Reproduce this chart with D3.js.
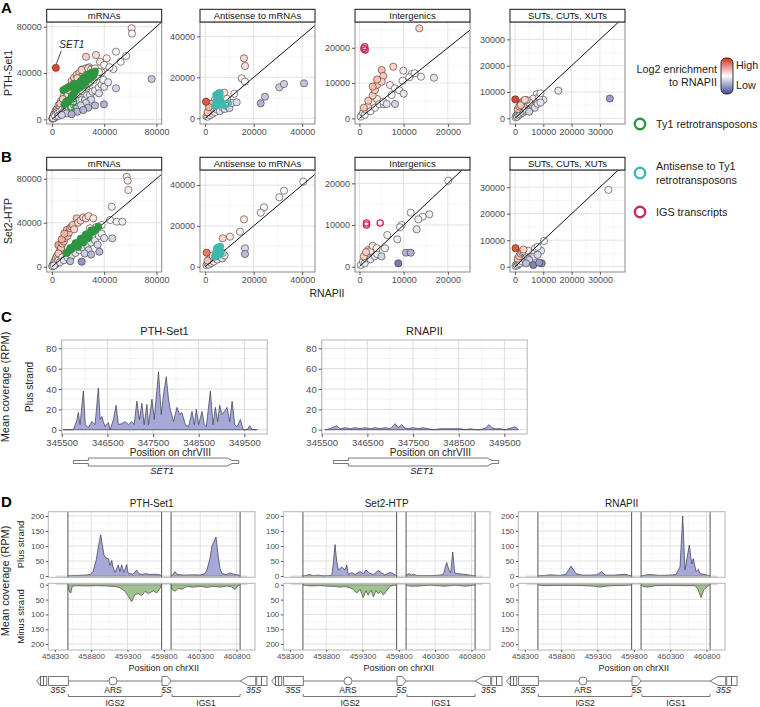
<!DOCTYPE html>
<html><head><meta charset="utf-8">
<script src="https://cdn.jsdelivr.net/npm/d3@7"></script>
<style>body{margin:0;background:#fff} svg{font-family:"Liberation Sans",Arial,Helvetica,sans-serif}</style>
</head><body><svg id="c" width="760" height="707"></svg>
<script>
// ================= DATA =================
const facetNames = ["mRNAs", "Antisense to mRNAs", "Intergenics", "SUTs, CUTs, XUTs"];
const rowNames = ["PTH-Set1", "Set2-HTP"];
const xLimits = [[-4000,84000],[-2150,45300],[-1000,25000],[-1770,38870]];
const yLimitsA = [[-4000,84000],[-2780,47000],[-1600,27300],[-2170,36600]];
const yLimitsB = [[-4800,87900],[-2600,47400],[-1270,23200],[-2000,36500]];
const majorTicks = [[0,40000,80000],[0,20000,40000],[0,10000,20000],[0,10000,20000,30000]];
const minorTicks = [[20000,60000],[10000,30000],[5000,15000,25000],[5000,15000,25000,35000]];

// row A: x = RNAPII, y = PTH-Set1
const mrnaA = [[300,600],[700,1800],[1200,2600],[1800,2200],[2200,4000],[2600,1900],[3300,5200],[3800,3200],[4300,7000],[4800,4500],[5300,8800],[5800,6000],[6300,4200],[6800,9800],[7300,7200],[7800,11500],[8300,6000],[9300,11000],[10200,8200],[11500,14000],
[500,800],[1000,1500],[1500,900],[2000,5000],[3000,7500],[4000,9000],[5000,12000],[6000,10500],[7000,16000],[8000,14000],[9000,20000],[10000,17500],[11000,24000],[12000,21000],[13000,28000],[14000,24500],[15000,33000],[16000,27000],[17000,36000],[18000,31000],[19000,38500],[20000,34000],[21000,40000],[22000,36500],[23000,43000],[24000,38000],[25000,41000],[26000,44000],[26100,54000],[28500,45000],[33700,55500],[22800,42600],[6500,13500],[8500,17500],[12500,25500],[3500,6000],[1500,3500],[16500,30500],[19500,35500],[27800,44000],
[1000,1200],[2500,2800],[4500,5000],[6000,6500],[8000,8500],[10000,10500],[12000,13000],[14000,15500],[17000,18000],[20000,21500],[23000,24500],[26000,28000],[29000,31500],[32000,34000],[35000,37000],[38000,40500],[36800,49700],[41900,52700],[47000,43400],[49000,58400],[52600,49700],[56700,54700],[61000,78600],[61300,74000],[30000,43000],[33000,44000],[40000,47000],[36000,41000],[44000,45000],[25000,30000],
[5000,3000],[7000,4500],[9000,6500],[11000,7000],[13000,9500],[15000,10000],[17000,12500],[19000,13000],[21000,16000],[23000,17000],[25300,16700],[27000,21000],[29100,21000],[31000,24000],[33000,25000],[35800,27700],[38000,30000],[39300,34000],[40000,28000],[43000,32000],[49000,26800],[36000,22500],[30000,17000],[26000,14000],[22000,12000],[18000,9000],
[76300,34800],[39800,13000],[27800,10100],[19400,6600],[11300,5200],[7500,3800],[33000,12000],[24000,8000],[15000,4500],
[3000,44500]];
const ty1A = [[8700,25300],[10500,26500],[12600,27700],[14500,28500],[16500,30000],[18500,30500],[20200,31100],[22000,33000],[23800,35500],[25500,36500],[27000,38300],[28500,39000],[30300,40400],[31500,40000],[33000,41300],[15100,19600],[16500,21500],[17700,23900],[19500,26000],[21500,27500],[24000,29500],[26000,32000],[28000,34500],[30000,36000],[32000,38000],[13500,17000],[11000,15500],[9500,13000]];
const ty1OpenA = [[14400,10400],[16500,15000]];
const antisenseA = [[500,1000],[1000,800],[1500,2500],[2000,1500],[2500,3500],[3000,2200],[3500,5000],[4000,3000],[5000,4200],[6000,3500],[7000,5500],[8000,4500],[9000,6000],[10000,5000],[11000,7500],[2000,4500],[3000,6500],[1000,3000],
[16000,29280],[16420,25520],[7880,12500],[4000,9000],[2500,7000],[1500,5500],
[15060,19520],[16420,17860],[12000,12000],[9000,9500],[6500,7000],
[12990,7810],[24670,10540],[30570,15130],[32510,16740],[40760,17080],[22890,7320],[330,8100]];
const asTy1A = [[4000,6000],[4500,8000],[5000,10000],[5500,12000],[5800,11000],[6200,9000],[6500,7500],[7000,6500],[5000,7000],[4500,11500],[6000,12400],[5200,9500]];
const asTy1OpenA = [[8860,6980],[9500,7500]];
const interA = [[300,500],[800,1500],[1200,1000],[1500,2500],[2000,3500],[2500,2000],[3000,4500],[3500,3000],[4000,5500],[4500,4000],[2000,5000],[3000,6500],[1000,3000],[3500,8000],[4000,9500],[5500,4000],
[13530,25500],[7660,14630],[5030,13700],[5400,12000],[5030,10380],[3000,9000],[4000,11000],
[9920,13500],[11810,12560],[11270,11630],[12500,12800],[9780,10670],[13920,11800],[6910,9450],[8040,8510],[7290,6620],[5400,4720],[9000,8000],
[16850,11520],[6160,4070],[10000,7000],[8040,4070]];
const igsA = [[1200,20300],[1300,19400],[1000,19800]];
const sutA = [[200,400],[500,1000],[800,600],[1000,1800],[1300,1200],[1500,2500],[1800,1500],[2000,3000],[2200,2000],[2500,3500],[2800,2200],[3000,4000],[3200,2800],[3500,4500],[3800,3000],[4000,3500],[4500,5000],[5000,4000],[5500,3500],[6000,5000],[6500,4500],[7000,4000],[1000,3500],[1500,4500],[2000,5500],[2500,6000],[3000,6500],
[15300,10500],[7660,9120],[10000,7000],[6460,7450],[8500,8000],[9000,9500],[5000,6000],
[4130,6950],[2000,5000],[3500,7000],[8000,5500],[9000,6000],[5000,2500],[33500,7500],[100,7200]];

// row B: x = RNAPII, y = Set2-HTP
const mrnaB = [[300,500],[700,1600],[1200,2400],[1800,1500],[2300,3600],[2800,2200],[3400,4800],[3900,3100],[4400,6200],[5200,4300],[5800,7600],[6400,5200],[7200,9400],[7800,6300],[8800,10200],[9600,7400],[10500,12500],[11200,9000],
[2000,5000],[3000,8000],[4000,10000],[4900,19700],[6000,14000],[7000,17000],[8000,21000],[9000,23000],[10000,26000],[11300,33400],[12000,28000],[13000,31000],[14000,35000],[15100,36400],[16000,38000],[17000,34000],[18960,44000],[20000,40000],[22000,42000],[24000,44900],[26000,44000],[28000,46000],[7500,25000],[9500,30000],[5000,12000],
[1000,1200],[3000,3300],[5000,5500],[8000,8500],[11000,11500],[14000,15000],[17000,18000],[20000,21500],[24000,26000],[27000,29000],[31660,44000],[38090,37910],[44440,42460],[45740,54540],[49560,40910],[53850,40910],[57200,81800],[58000,78200],[58500,69700],[34000,36000],[31000,33000],[29000,35000],
[6000,4000],[9000,6000],[12000,8500],[15000,10000],[18000,12500],[21000,15000],[24000,17000],[27000,19000],[30000,22000],[33000,24000],[35000,20000],[36000,28000],[38000,30000],[40000,26000],[28000,15000],[25000,12000],
[46200,25800],[36250,13650],[22800,4560],[14000,5000],[30000,11000],[500,600],[1500,1000]];
const ty1B = [[11300,12400],[13000,14500],[15000,16000],[17000,18500],[19000,20000],[21000,22500],[23000,24000],[25000,26500],[27000,28000],[29000,30000],[31000,31500],[33000,33500],[35500,36400],[14000,17000],[18000,21500],[22000,25500],[26000,29500],[30000,33000],[20000,18000],[24000,22000],[28000,26000]];
const antisenseB = [[500,800],[1000,1500],[1500,1000],[2000,2500],[2500,1800],[3000,3500],[3500,2500],[4000,4500],[5000,3500],[6000,5000],[7000,4000],[8000,5500],[2000,4000],[1000,3000],[3000,5500],
[40470,41670],[32510,37260],[30570,34020],[24260,29120],[22890,26470],[14350,17160],[7220,6800],[10230,14700],
[16000,23230],[7220,13920],[16420,9020],[16420,6220],[610,6860]];
const asTy1B = [[4000,5000],[4500,7000],[5000,8500],[5500,9500],[6000,8000],[6500,7000],[5200,6500],[4800,9000],[6200,9800],[5800,6000]];
const interB = [[300,400],[800,1200],[1200,800],[1500,2000],[2000,2800],[2500,1800],[3000,3500],[3500,2500],[1000,2500],[2000,4000],[4000,3000],[2500,3800],[1500,3500],[3000,5000],
[20090,20630],[11590,12960],[15800,12570],[14300,12000],[13300,11370],[9550,10000],[9170,9450],[12940,8970],[6300,7600],[8560,6570],[5780,4420],[3900,4420],
[10530,3360],[11590,3360],[5000,2500],[8790,820]];
const igsB = [[1600,10500],[1600,10000],[4700,10500]];
const sutB = [[200,300],[500,800],[800,500],[1000,1500],[1300,1000],[1500,2200],[1800,1300],[2000,2800],[2500,2000],[3000,3200],[3500,2500],[4000,4000],[4500,3000],[1000,3000],[1500,4000],[2000,5000],[2500,5500],[3000,5800],
[33000,29000],[10250,9700],[9190,6040],[7070,6950],[6000,5000],[8000,7500],[4700,6040],[3000,6500],
[6710,3780],[8000,4500],[5000,2500],[9430,1280],[6460,640],[3900,1300],[8500,1500],[200,7000]];

const legendItems = ["Ty1 retrotransposons", ["Antisense to Ty1","retrotransposons"], "IGS transcripts"];

// Panel C: coverage on chrVIII (RPM, plus strand)
const cTitles = ["PTH-Set1", "RNAPII"];
const cXLimits = [345500, 350000];
const cYLimits = [-4.2, 88.2];
const cXTicks = [345500, 346500, 347500, 348500, 349500];
const cXMinor = [346000, 347000, 348000, 349000];
const cYTicks = [0, 20, 40, 60, 80];
const cYMinor = [10, 30, 50, 70];
const set1Cov = [[345530,0],[345726,0],[345755,0],[345829,9],[345864,17],[345902,5],[345974,38],[346018,5],[346084,2],[346159,8],[346231,5],[346303,41],[346341,10],[346378,13],[346413,8],[346450,3],[346523,7],[346560,0],[346633,10],[346692,24],[346742,5],[346817,6],[346889,8],[346962,5],[347037,8],[347087,5],[347146,28],[347203,10],[347256,26],[347306,5],[347366,25],[347401,5],[347476,30],[347526,10],[347620,57],[347680,15],[347730,35],[347789,52],[347840,30],[347877,20],[347950,8],[348024,22],[348081,15],[348134,17],[348206,5],[348279,3],[348354,18],[348404,5],[348448,20],[348498,5],[348573,18],[348623,5],[348667,3],[348755,38],[348814,5],[348865,22],[348915,8],[348959,24],[349012,15],[349062,18],[349122,22],[349179,8],[349232,28],[349289,5],[349341,3],[349414,10],[349473,0],[349561,0],[349618,4],[349671,0],[349780,0]];
const rnapCov = [[345572,0],[345682,1],[345829,4],[345902,1],[346011,2],[346121,1],[346231,2],[346341,1],[346450,2],[346560,1],[346670,2],[346780,1],[346889,2],[346999,1],[347065,4],[347109,6],[347175,2],[347256,5],[347306,2],[347394,1],[347504,2],[347614,1],[347723,2],[347833,1],[347943,0],[348096,1],[348206,1],[348316,1],[348426,1],[348535,1],[348645,0],[348755,1],[348865,0],[348974,0],[349106,2],[349157,5],[349232,2],[349304,1],[349414,1],[349523,0],[349671,2],[349743,3],[349809,0]];
const set1Gene = {start:345755, cdsStart:346084, arrowStart:349122, cdsEnd:349232, end:349376, name:"SET1"};

// Panel D: rDNA locus on chrXII
const dTitles = ["PTH-Set1", "Set2-HTP", "RNAPII"];
const dXLimits = [458210, 461055];
const dPlusLimits = [-4.3, 214.3];
const dMinusLimits = [-5, 220];
const dXTicks = [458300, 458800, 459300, 459800, 460300, 460800];
const dXMinor = [458550, 459050, 459550, 460050, 460550];
const dYTicks = [0, 50, 100, 150, 200];
const dYMinor = [25, 75, 125, 175];
const dMasks = [[458210,458480],[459770,459900],[460850,461055]];
const dBaseline = [458326, 460941];
const pthPlus = [[458481,0],[458577,2],[458715,3],[458784,5],[458825,15],[458867,50],[458894,90],[458931,137],[458956,100],[458977,70],[459004,60],[459036,58],[459059,35],[459083,52],[459101,30],[459128,12],[459173,37],[459197,15],[459220,37],[459252,12],[459289,38],[459307,10],[459335,8],[459376,6],[459427,20],[459458,8],[459500,5],[459555,8],[459610,5],[459679,6],[459748,4],[459768,0],
 [459902,0],[459926,5],[459954,15],[459981,5],[460091,3],[460229,4],[460298,3],[460367,8],[460394,20],[460436,60],[460463,100],[460518,130],[460546,70],[460573,25],[460601,8],[460656,5],[460711,10],[460766,6],[460835,3],[460848,0]];
const pthMinus = [[458481,0],[458495,20],[458518,28],[458540,5],[458601,3],[458739,4],[458876,3],[459014,4],[459128,6],[459197,10],[459266,22],[459311,39],[459358,57],[459403,33],[459449,30],[459496,37],[459541,22],[459586,30],[459655,20],[459702,28],[459748,12],[459768,0],
 [459902,0],[459908,15],[459954,22],[459999,12],[460046,15],[460115,6],[460206,8],[460298,5],[460390,9],[460481,5],[460573,8],[460666,4],[460734,7],[460780,16],[460812,5],[460848,0]];
const set2Plus = [[458481,0],[458577,5],[458623,1],[458692,3],[458761,0],[458876,2],[458898,40],[458922,105],[458945,50],[458967,20],[459014,30],[459059,20],[459083,37],[459105,5],[459151,12],[459197,5],[459266,15],[459311,8],[459348,20],[459394,10],[459449,5],[459518,18],[459564,10],[459610,3],[459679,12],[459724,8],[459768,0],
 [459902,0],[459908,4],[459944,8],[459977,3],[459999,6],[460046,2],[460184,1],[460321,2],[460412,5],[460459,45],[460491,20],[460514,10],[460542,80],[460569,10],[460619,8],[460688,6],[460756,4],[460848,0]];
const set2Minus = [[458481,0],[458577,4],[458715,3],[458922,6],[458990,8],[459059,6],[459128,10],[459169,15],[459220,28],[459266,15],[459311,43],[459348,20],[459380,35],[459417,18],[459449,40],[459486,20],[459518,30],[459555,22],[459586,35],[459633,20],[459679,5],[459768,0],
 [459902,0],[459954,5],[460091,4],[460229,1],[460436,5],[460573,1],[460725,5],[460848,0]];
const rnapPlus = [[458481,0],[458577,2],[458646,4],[458784,2],[458867,6],[458935,33],[459004,8],[459087,3],[459197,3],[459293,4],[459358,15],[459403,3],[459541,3],[459679,6],[459768,0],
 [459902,0],[459954,3],[460023,5],[460160,2],[460298,3],[460381,5],[460436,30],[460473,200],[460504,20],[460564,103],[460597,40],[460619,58],[460656,15],[460688,22],[460711,8],[460780,5],[460848,0]];
const rnapMinus = [[458481,0],[458577,3],[458715,2],[458990,2],[459128,3],[459266,5],[459335,8],[459403,5],[459500,3],[459679,2],[459768,0],
 [459902,0],[459926,6],[459995,8],[460091,3],[460298,2],[460504,3],[460642,3],[460683,15],[460725,43],[460766,15],[460848,0]];
const rdna = {left35S:[458050,458485], ars:459100, fiveS:[459775,459900], right35S:[460850,461220], igs2:[458485,459775], igs1:[459913,460849]};

// ================= DRAWING =================
const svg = d3.select("#c");
const TXT = "#4d4d4d";
const enrich = d3.scaleLinear().domain([-4,0,4]).range(["#3b4a94","#ffffff","#d62f1c"]).interpolate(d3.interpolateLab).clamp(true);
const fillFor = d => enrich(Math.log2((d[1]+500)/(d[0]+500)));
const GREEN = "#2f9442", TEAL = "#3fb8ad", CRIMSON = "#d3245e";

const colLeft = [46.7, 200, 355, 510], colW = 115;
const rowTop = [22, 170], rowBottom = [124, 272];
const panels = [
  [[mrnaA,[[ty1A,GREEN,true],[ty1OpenA,GREEN,false]]],[antisenseA,[[asTy1A,TEAL,true],[asTy1OpenA,TEAL,false]]],[interA,[[igsA,CRIMSON,false]]],[sutA,[]]],
  [[mrnaB,[[ty1B,GREEN,true]]],[antisenseB,[[asTy1B,TEAL,true]]],[interB,[[igsB,CRIMSON,false]]],[sutB,[]]]
];

function styleAxis(g, size){
  g.select(".domain").remove();
  g.selectAll(".tick line").attr("stroke","#333").attr("stroke-width",0.8);
  g.selectAll(".tick text").attr("fill",TXT).style("font-size",size+"px").style("font-family",'"Liberation Sans",Arial,sans-serif');
}

let clipN = 0;
function clipRect(x,y,w,h){
  const id = "cl"+(clipN++);
  svg.append("clipPath").attr("id",id).append("rect").attr("x",x).attr("y",y).attr("width",w).attr("height",h);
  return "url(#"+id+")";
}

for (let r=0;r<2;r++) for (let c=0;c<4;c++){
  const left=colLeft[c], top=rowTop[r], bottom=rowBottom[r];
  const x = d3.scaleLinear().domain(xLimits[c]).range([left,left+colW]);
  const y = d3.scaleLinear().domain((r===0?yLimitsA:yLimitsB)[c]).range([bottom,top]);
  const g = svg.append("g");
  const cp = clipRect(left,top,colW,bottom-top);
  g.append("rect").attr("x",left).attr("y",top).attr("width",colW).attr("height",bottom-top).attr("fill","#fff");
  const inX = v=>v>=x.domain()[0]&&v<=x.domain()[1], inY = v=>v>=y.domain()[0]&&v<=y.domain()[1];
  minorTicks[c].filter(inX).forEach(v=>g.append("line").attr("x1",x(v)).attr("x2",x(v)).attr("y1",top).attr("y2",bottom).attr("stroke","#f0f0f0").attr("stroke-width",0.6));
  minorTicks[c].filter(inY).forEach(v=>g.append("line").attr("y1",y(v)).attr("y2",y(v)).attr("x1",left).attr("x2",left+colW).attr("stroke","#f0f0f0").attr("stroke-width",0.6));
  majorTicks[c].filter(inX).forEach(v=>g.append("line").attr("x1",x(v)).attr("x2",x(v)).attr("y1",top).attr("y2",bottom).attr("stroke","#e3e3e3").attr("stroke-width",1));
  majorTicks[c].filter(inY).forEach(v=>g.append("line").attr("y1",y(v)).attr("y2",y(v)).attr("x1",left).attr("x2",left+colW).attr("stroke","#e3e3e3").attr("stroke-width",1));
  const [pts, cats] = panels[r][c];
  const pg = g.append("g").attr("clip-path",cp);
  pg.selectAll("circle.p").data(pts).join("circle").attr("class","p")
    .attr("cx",d=>x(d[0])).attr("cy",d=>y(d[1])).attr("r",3.6)
    .attr("fill",fillFor).attr("stroke","#262626").attr("stroke-width",0.55);
  const M = 1e6;
  pg.append("line").attr("x1",x(0)).attr("y1",y(0)).attr("x2",x(M)).attr("y2",y(M)).attr("stroke","#111").attr("stroke-width",1);
  cats.forEach(([arr,col,filled])=>{
    pg.selectAll(null).data(arr).join("circle")
      .attr("cx",d=>x(d[0])).attr("cy",d=>y(d[1])).attr("r",filled?3.6:3.1)
      .attr("fill",filled?col:"none").attr("stroke",col).attr("stroke-width",filled?0.6:1.3);
  });
  g.append("rect").attr("x",left).attr("y",top).attr("width",colW).attr("height",bottom-top).attr("fill","none").attr("stroke","#8a8a8a").attr("stroke-width",1);
  // strip
  g.append("rect").attr("x",left).attr("y",top-12.7).attr("width",colW).attr("height",12.7).attr("fill","#fff").attr("stroke","#111").attr("stroke-width",1);
  g.append("text").attr("x",left+colW/2).attr("y",top-3.2).attr("text-anchor","middle").style("font-size","9.5px").attr("fill","#111").text(facetNames[c]);
  // axes
  const ay = g.append("g").attr("transform",`translate(${left},0)`).call(d3.axisLeft(y).tickValues(majorTicks[c]).tickSize(3).tickPadding(2).tickFormat(d3.format("d")));
  styleAxis(ay,9);
  const ax = g.append("g").attr("transform",`translate(0,${bottom})`).call(d3.axisBottom(x).tickValues(majorTicks[c]).tickSize(3).tickPadding(2).tickFormat(d3.format("d")));
  styleAxis(ax,9);
}
// SET1 label
{
  const x = d3.scaleLinear().domain(xLimits[0]).range([colLeft[0],colLeft[0]+colW]);
  const y = d3.scaleLinear().domain(yLimitsA[0]).range([rowBottom[0],rowTop[0]]);
  const p = mrnaA[mrnaA.length-1];
  svg.append("line").attr("x1",x(p[0])+0.5).attr("y1",y(p[1])-4).attr("x2",x(p[0])+5.5).attr("y2",y(p[1])-17).attr("stroke","#222").attr("stroke-width",0.8);
  svg.append("text").attr("x",x(p[0])+16).attr("y",y(p[1])-20).attr("text-anchor","middle").style("font-size","10px").style("font-style","italic").attr("fill","#222").text("SET1");
}
// row labels, axis title, panel letters
rowNames.forEach((n,i)=>{
  const cy=(rowTop[i]+rowBottom[i])/2;
  svg.append("text").attr("transform",`translate(12,${cy}) rotate(-90)`).attr("text-anchor","middle").style("font-size","10.5px").attr("fill","#222").text(n);
});
svg.append("text").attr("x",327).attr("y",297).attr("text-anchor","middle").style("font-size","10.5px").attr("fill","#222").text("RNAPII");
[["A",13],["B",162],["C",322],["D",507]].forEach(([t,y])=>svg.append("text").attr("x",1).attr("y",y).style("font-size","15px").style("font-weight","bold").attr("fill","#000").text(t));

// legend
{
  const defs = svg.append("defs");
  const gr = defs.append("linearGradient").attr("id","gbar").attr("x1",0).attr("x2",0).attr("y1",0).attr("y2",1);
  [[0,enrich(4)],[0.5,enrich(0)],[1,enrich(-4)]].forEach(([o,c])=>gr.append("stop").attr("offset",o).attr("stop-color",c));
  svg.append("text").attr("x",717).attr("y",73).attr("text-anchor","end").style("font-size","10.8px").attr("fill","#222").text("Log2 enrichment");
  svg.append("text").attr("x",717).attr("y",86).attr("text-anchor","end").style("font-size","10.8px").attr("fill","#222").text("to RNAPII");
  svg.append("rect").attr("x",721).attr("y",58).attr("width",12).attr("height",36).attr("rx",5).attr("fill","url(#gbar)").attr("stroke","#333").attr("stroke-width",1);
  svg.append("text").attr("x",736).attr("y",69).style("font-size","10.8px").attr("fill","#222").text("High");
  svg.append("text").attr("x",736).attr("y",89).style("font-size","10.8px").attr("fill","#222").text("Low");
  const lc=[GREEN,TEAL,CRIMSON], ly=[124,173,212];
  legendItems.forEach((t,i)=>{
    svg.append("circle").attr("cx",640).attr("cy",ly[i]).attr("r",5.2).attr("fill","none").attr("stroke",lc[i]).attr("stroke-width",2.4);
    const lines = Array.isArray(t)?t:[t];
    lines.forEach((s,j)=>svg.append("text").attr("x",656).attr("y",ly[i]+4-(lines.length-1)*6.8+j*13.6).style("font-size","10.8px").attr("fill","#222").text(s));
  });
}

// ---------- Panel C ----------
const cLeft=[61.7,321.7], cW=205.5, cTop=340, cBot=434;
[[set1Cov,0],[rnapCov,1]].forEach(([data,i])=>{
  const left=cLeft[i];
  const x=d3.scaleLinear().domain(cXLimits).range([left,left+cW]);
  const y=d3.scaleLinear().domain(cYLimits).range([cBot,cTop]);
  const g=svg.append("g");
  g.append("rect").attr("x",left).attr("y",cTop).attr("width",cW).attr("height",cBot-cTop).attr("fill","#fff");
  cXMinor.forEach(v=>g.append("line").attr("x1",x(v)).attr("x2",x(v)).attr("y1",cTop).attr("y2",cBot).attr("stroke","#ececec").attr("stroke-width",0.6));
  cYMinor.forEach(v=>g.append("line").attr("y1",y(v)).attr("y2",y(v)).attr("x1",left).attr("x2",left+cW).attr("stroke","#ececec").attr("stroke-width",0.6));
  cXTicks.forEach(v=>g.append("line").attr("x1",x(v)).attr("x2",x(v)).attr("y1",cTop).attr("y2",cBot).attr("stroke","#dcdcdc").attr("stroke-width",1));
  cYTicks.forEach(v=>g.append("line").attr("y1",y(v)).attr("y2",y(v)).attr("x1",left).attr("x2",left+cW).attr("stroke","#dcdcdc").attr("stroke-width",1));
  const area=d3.area().x(d=>x(d[0])).y0(y(0)).y1(d=>y(d[1]));
  g.append("path").datum(data).attr("d",area).attr("fill","#a6a8d8").attr("stroke","#3a3a4e").attr("stroke-width",0.7);
  g.append("rect").attr("x",left).attr("y",cTop).attr("width",cW).attr("height",cBot-cTop).attr("fill","none").attr("stroke","#b5b5b5").attr("stroke-width",1);
  const ay=g.append("g").attr("transform",`translate(${left},0)`).call(d3.axisLeft(y).tickValues(cYTicks).tickSize(3).tickPadding(2));
  styleAxis(ay,9.5);
  const ax=g.append("g").attr("transform",`translate(0,${cBot})`).call(d3.axisBottom(x).tickValues(cXTicks).tickSize(3).tickPadding(2).tickFormat(d3.format("d")));
  styleAxis(ax,9.5);
  g.append("text").attr("x",left+cW/2).attr("y",335).attr("text-anchor","middle").style("font-size","11px").attr("fill","#222").text(cTitles[i]);
  g.append("text").attr("x",left+cW/2+6).attr("y",456).attr("text-anchor","middle").style("font-size","10px").attr("fill","#222").text("Position on chrVIII");
  // gene
  const gc=462, s=set1Gene;
  const pth=[[s.start,gc-1.5],[s.cdsStart,gc-1.5],[s.cdsStart,gc-4],[s.arrowStart,gc-4],[s.cdsEnd,gc-1.5],[s.end,gc-1.5],[s.end,gc+1.5],[s.cdsEnd,gc+1.5],[s.arrowStart,gc+4],[s.cdsStart,gc+4],[s.cdsStart,gc+1.5],[s.start,gc+1.5]];
  g.append("path").attr("d","M"+pth.map(p=>x(p[0])+","+p[1]).join("L")+"Z").attr("fill","#fff").attr("stroke","#555").attr("stroke-width",0.8);
  g.append("text").attr("x",x((s.start+s.end)/2)+6).attr("y",474).attr("text-anchor","middle").style("font-size","9.5px").style("font-style","italic").attr("fill","#222").text(s.name);
});
svg.append("text").attr("transform","translate(9,387) rotate(-90)").attr("text-anchor","middle").style("font-size","11px").attr("fill","#222").text("Mean coverage (RPM)");
svg.append("text").attr("transform","translate(33,387) rotate(-90)").attr("text-anchor","middle").style("font-size","10px").attr("fill","#222").text("Plus strand");

// ---------- Panel D ----------
const dLeft=[48.3,283.3,518.3], dW=206.7, pTop=511.7, pBot=577.3, mTop=583.3, mBot=650;
const dData=[[pthPlus,pthMinus],[set2Plus,set2Minus],[rnapPlus,rnapMinus]];
dData.forEach(([plus,minus],i)=>{
  const left=dLeft[i];
  const x=d3.scaleLinear().domain(dXLimits).range([left,left+dW]);
  const yP=d3.scaleLinear().domain(dPlusLimits).range([pBot,pTop]);
  const yM=d3.scaleLinear().domain(dMinusLimits).range([mTop,mBot]);
  const g=svg.append("g");
  [[yP,pTop,pBot,plus,"#a6a8d8","#3a3a4e"],[yM,mTop,mBot,minus,"#9fc38c","#3f4d38"]].forEach(([y,t,b,data,fc,sc])=>{
    g.append("rect").attr("x",left).attr("y",t).attr("width",dW).attr("height",b-t).attr("fill","#fff");
    dXMinor.forEach(v=>g.append("line").attr("x1",x(v)).attr("x2",x(v)).attr("y1",t).attr("y2",b).attr("stroke","#efefef").attr("stroke-width",0.6));
    dYMinor.forEach(v=>g.append("line").attr("y1",y(v)).attr("y2",y(v)).attr("x1",left).attr("x2",left+dW).attr("stroke","#efefef").attr("stroke-width",0.6));
    dXTicks.forEach(v=>g.append("line").attr("x1",x(v)).attr("x2",x(v)).attr("y1",t).attr("y2",b).attr("stroke","#e0e0e0").attr("stroke-width",1));
    dYTicks.forEach(v=>g.append("line").attr("y1",y(v)).attr("y2",y(v)).attr("x1",left).attr("x2",left+dW).attr("stroke","#e0e0e0").attr("stroke-width",1));
    const area=d3.area().x(d=>x(d[0])).y0(y(0)).y1(d=>y(d[1]));
    g.append("path").datum(data).attr("d",area).attr("fill",fc).attr("stroke",sc).attr("stroke-width",0.7);
    dMasks.forEach(([a,bb])=>{
      g.append("rect").attr("x",x(a)).attr("y",t).attr("width",x(bb)-x(a)).attr("height",b-t).attr("fill","#fff");
    });
    g.append("rect").attr("x",x(dBaseline[0])).attr("width",x(dBaseline[1])-x(dBaseline[0])).attr("y",Math.min(y(0),y(-4))).attr("height",Math.abs(y(0)-y(-4))).attr("fill","none").attr("stroke","#c4c4c4").attr("stroke-width",0.7);
    [dMasks[0][1],dMasks[1][0],dMasks[1][1],dMasks[2][0]].forEach(v=>g.append("line").attr("x1",x(v)).attr("x2",x(v)).attr("y1",t).attr("y2",b).attr("stroke","#555").attr("stroke-width",1));
    g.append("rect").attr("x",left).attr("y",t).attr("width",dW).attr("height",b-t).attr("fill","none").attr("stroke","#b5b5b5").attr("stroke-width",1);
    const ay=g.append("g").attr("transform",`translate(${left},0)`).call(d3.axisLeft(y).tickValues(dYTicks).tickSize(2.5).tickPadding(1.5));
    styleAxis(ay,8);
  });
  const ax=g.append("g").attr("transform",`translate(0,${mBot})`).call(d3.axisBottom(x).tickValues(dXTicks).tickSize(2).tickPadding(1).tickFormat(d3.format("d")));
  styleAxis(ax,8);
  g.append("text").attr("x",left+dW/2).attr("y",507).attr("text-anchor","middle").style("font-size","10px").attr("fill","#222").text(dTitles[i]);
  g.append("text").attr("x",left+dW/2+12).attr("y",670.5).attr("text-anchor","middle").style("font-size","9px").attr("fill","#222").text("Position on chrXII");
  // rDNA schematic
  const gy=681, h=4.5, gcol="#555";
  const L=rdna.left35S, R=rdna.right35S;
  const sl=x(L[0]), el=x(L[1]);
  g.append("line").attr("x1",el).attr("x2",x(rdna.fiveS[0])).attr("y1",gy).attr("y2",gy).attr("stroke",gcol).attr("stroke-width",0.8);
  g.append("line").attr("x1",x(rdna.fiveS[1])).attr("x2",x(R[0])).attr("y1",gy).attr("y2",gy).attr("stroke",gcol).attr("stroke-width",0.8);
  const lw=el-sl;
  g.append("path").attr("d",`M${sl},${gy}L${sl+lw*0.12},${gy-h}L${sl+lw*0.12},${gy+h}Z`).attr("fill","#fff").attr("stroke",gcol).attr("stroke-width",0.8);
  g.append("rect").attr("x",sl+lw*0.12).attr("y",gy-h).attr("width",lw*0.1).attr("height",2*h).attr("fill","#fff").attr("stroke",gcol).attr("stroke-width",0.8);
  g.append("rect").attr("x",sl+lw*0.22).attr("y",gy-h).attr("width",lw*0.1).attr("height",2*h).attr("fill","#fff").attr("stroke",gcol).attr("stroke-width",0.8);
  g.append("rect").attr("x",sl+lw*0.38).attr("y",gy-h).attr("width",lw*0.62).attr("height",2*h).attr("fill","#fff").attr("stroke",gcol).attr("stroke-width",0.8);
  const sr=x(R[0]), er=x(R[1]), rw=er-sr;
  g.append("path").attr("d",`M${sr},${gy}L${sr+rw*0.3},${gy-h}L${sr+rw*0.58},${gy-h}L${sr+rw*0.58},${gy+h}L${sr+rw*0.3},${gy+h}Z`).attr("fill","#fff").attr("stroke",gcol).attr("stroke-width",0.8);
  g.append("rect").attr("x",sr+rw*0.62).attr("y",gy-h).attr("width",rw*0.18).attr("height",2*h).attr("fill","#fff").attr("stroke",gcol).attr("stroke-width",0.8);
  g.append("rect").attr("x",sr+rw*0.8).attr("y",gy-h).attr("width",rw*0.2).attr("height",2*h).attr("fill","#fff").attr("stroke",gcol).attr("stroke-width",0.8);
  const s5=x(rdna.fiveS[0]), e5=x(rdna.fiveS[1]);
  g.append("path").attr("d",`M${s5},${gy-h}L${s5+(e5-s5)*0.6},${gy-h}L${e5},${gy}L${s5+(e5-s5)*0.6},${gy+h}L${s5},${gy+h}Z`).attr("fill","#fff").attr("stroke",gcol).attr("stroke-width",0.8);
  g.append("circle").attr("cx",x(rdna.ars)).attr("cy",gy).attr("r",4).attr("fill","#fff").attr("stroke",gcol).attr("stroke-width",0.8);
  const lab=(t,xx,it)=>g.append("text").attr("x",xx).attr("y",693).attr("text-anchor","middle").style("font-size","8.5px").style("font-style",it?"italic":"normal").attr("fill","#222").text(t);
  lab("35S",sl+lw*0.68,true); lab("ARS",x(rdna.ars),false); lab("5S",(s5+e5)/2,true); lab("35S",sr+rw*0.5,true);
  [[rdna.igs2,"IGS2"],[rdna.igs1,"IGS1"]].forEach(([[a,b],t])=>{
    const xa=x(a), xb=x(b), by=696.5;
    g.append("path").attr("d",`M${xa},${by-2.5}L${xa},${by}L${xb},${by}L${xb},${by-2.5}`).attr("fill","none").attr("stroke",gcol).attr("stroke-width",0.8);
    g.append("text").attr("x",(xa+xb)/2).attr("y",705.5).attr("text-anchor","middle").style("font-size","8.5px").attr("fill","#222").text(t);
  });
});
svg.append("text").attr("transform","translate(9,581) rotate(-90)").attr("text-anchor","middle").style("font-size","11px").attr("fill","#222").text("Mean coverage (RPM)");
svg.append("text").attr("transform","translate(24,544.5) rotate(-90)").attr("text-anchor","middle").style("font-size","9.5px").attr("fill","#222").text("Plus strand");
svg.append("text").attr("transform","translate(24,616.5) rotate(-90)").attr("text-anchor","middle").style("font-size","9.5px").attr("fill","#222").text("Minus strand");
</script></body></html>
